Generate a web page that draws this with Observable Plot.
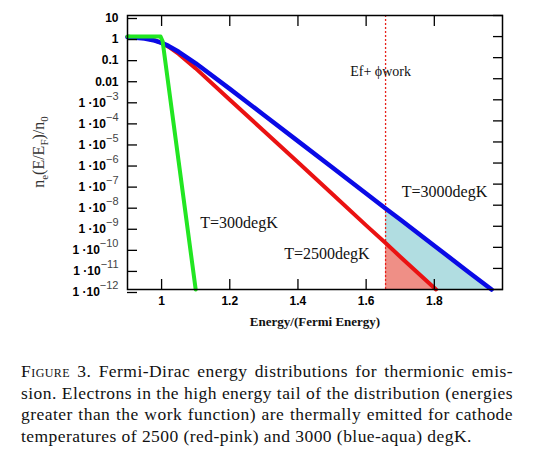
<!DOCTYPE html>
<html><head><meta charset="utf-8">
<script src="https://cdn.jsdelivr.net/npm/d3@7"></script>
<script src="https://cdn.jsdelivr.net/npm/@observablehq/plot@0.6"></script>
<style>
body{margin:0;background:#fff;}
#chart{width:540px;height:340px;}
#caption{font-family:"Liberation Serif","Times New Roman",serif;font-size:17.5px;letter-spacing:0.45px;line-height:21.7px;margin:21px 27px 0 21px;color:#111;}
#caption div{text-align:justify;text-align-last:justify;white-space:nowrap;}
#caption div.last{text-align-last:left;}
.sc{font-variant:small-caps;}
</style></head><body>
<div id="chart"></div>
<div id="caption">
<div><span class="sc">Figure 3.</span> Fermi-Dirac energy distributions for thermionic emis-</div>
<div>sion. Electrons in the high energy tail of the distribution (energies</div>
<div>greater than the work function) are thermally emitted for cathode</div>
<div class="last">temperatures of 2500 (red-pink) and 3000 (blue-aqua) degK.</div>
</div>
<script>
// T = 3000 degK (blue)
const blueE = [0.9, 0.95, 0.98, 1.0, 1.02, 1.05, 1.1, 1.2, 1.3, 1.4, 1.5, 1.6, 1.657, 1.7, 1.8, 1.9, 1.968];
const blueN = [0.95, 0.81, 0.64, 0.5, 0.36, 0.19, 0.054, 3.3e-3, 1.9e-4, 1.1e-5, 6.3e-7, 3.6e-8, 7.0e-9, 2.1e-9, 1.2e-10, 6.8e-12, 1e-12];
// T = 2500 degK (red)
const redE = [0.9, 0.95, 0.98, 1.0, 1.02, 1.05, 1.1, 1.2, 1.3, 1.4, 1.5, 1.6, 1.657, 1.7, 1.805];
const redN = [0.97, 0.85, 0.66, 0.5, 0.33, 0.15, 0.031, 1.0e-3, 3.3e-5, 1.1e-6, 3.5e-8, 1.1e-9, 1.6e-10, 3.6e-11, 1e-12];
// T = 300 degK (green)
const greenE = [0.9, 0.997, 1.003, 1.05, 1.1];
const greenN = [1, 1, 0.6, 1.2e-6, 1e-12];

const workE = 1.657; // Ef + phi_work
const nMin = 1e-12;

const xTicks = [1, 1.2, 1.4, 1.6, 1.8];
const xTickLabels = ["1", "1.2", "1.4", "1.6", "1.8"];
const yTicks = [10, 1, 0.1, 0.01, 1e-3, 1e-4, 1e-5, 1e-6, 1e-7, 1e-8, 1e-9, 1e-10, 1e-11, 1e-12];
const yTickLabels = ["10", "1", "0.1", "0.01", "1 ·10^−3", "1 ·10^−4", "1 ·10^−5", "1 ·10^−6", "1 ·10^−7", "1 ·10^−8", "1 ·10^−9", "1 ·10^−10", "1 ·10^−11", "1 ·10^−12"];

const curveLabels = ["T=3000degK", "T=300degK", "T=2500degK"];
const curveLabelE = [1.83, 1.227, 1.485];
const curveLabelN = [4.1e-8, 1.4e-9, 4.7e-11];
const workLabel = "Ef+ ϕwork";
const workLabelN = 0.0224;

const rows = (E, N) => E.map((e, i) => ({E: e, n: N[i]}));
const blue = rows(blueE, blueN), red = rows(redE, redN), green = rows(greenE, greenN);
const blueTail = blue.filter(d => d.E >= workE);
const redTail = red.filter(d => d.E >= workE);
const labelRows = curveLabels.map((t, i) => ({t, E: curveLabelE[i], n: curveLabelN[i]}));
const xLab = new Map(xTicks.map((t, i) => [t, xTickLabels[i]]));
const yLab = new Map(yTicks.map((t, i) => [t, yTickLabels[i]]));

const tickStyle = {fontWeight: "bold", fontSize: 12, fontFamily: "Liberation Sans, Arial, sans-serif", stroke: "black", strokeWidth: 1.3};

const plot = Plot.plot({
  width: 540, height: 340,
  marginLeft: 127, marginRight: 38, marginTop: 15, marginBottom: 51,
  style: {background: "white", color: "black", fontFamily: "Liberation Sans, Arial, sans-serif"},
  x: {domain: [0.9, 2.0]},
  y: {type: "log", domain: [nMin, 10]},
  marks: [
    Plot.areaY(blueTail, {x: "E", y1: nMin, y2: "n", fill: "#b1dde1"}),
    Plot.areaY(redTail, {x: "E", y1: nMin, y2: "n", fill: "#ef8f86"}),
    Plot.ruleX([workE], {stroke: "#e8201a", strokeWidth: 1.3, strokeDasharray: "2,2"}),
    Plot.line(red, {x: "E", y: "n", stroke: "#ea1212", strokeWidth: 4}),
    Plot.line(blue, {x: "E", y: "n", stroke: "#0a0ae6", strokeWidth: 4.5}),
    Plot.line(green, {x: "E", y: "n", stroke: "#22e622", strokeWidth: 4}),
    Plot.axisX({ticks: xTicks, tickFormat: d => xLab.get(d), tickSize: -10, tickPadding: 17, label: null, ...tickStyle}),
    Plot.axisX({anchor: "top", ticks: xTicks, tickFormat: () => "", tickSize: -10, label: null, ...tickStyle}),
    Plot.axisY({ticks: yTicks, tickFormat: d => yLab.get(d), tickSize: -10, tickPadding: 19, dy: 3, label: null, ...tickStyle}),
    Plot.axisY({anchor: "right", ticks: yTicks, tickFormat: () => "", tickSize: -10, label: null, ...tickStyle}),
    Plot.frame({stroke: "black", strokeWidth: 1.5}),
    Plot.text(labelRows, {x: "E", y: "n", text: "t", fontFamily: "Liberation Serif, serif", fontSize: 16, fill: "#111"}),
    Plot.text([workLabel], {x: workE, y: workLabelN, dx: -5, fontFamily: "Liberation Serif, serif", fontSize: 14, fill: "#111"}),
    Plot.text(["Energy/(Fermi Energy)"], {frameAnchor: "bottom", dy: 36, fontFamily: "Liberation Serif, serif", fontWeight: "bold", fontSize: 13, fill: "#111"})
  ]
});
document.getElementById("chart").appendChild(plot);

// superscript exponents on y tick labels
d3.select(plot).selectAll('g[aria-label="y-axis tick label"] text').each(function() {
  const s = this.textContent;
  if (!s.includes("^")) return;
  const [base, ex] = s.split("^");
  const t = d3.select(this);
  t.text(null);
  t.append("tspan").text(base);
  t.append("tspan").attr("dy", "-7").attr("font-size", 11).attr("font-weight", "normal").attr("fill", "#444").text(ex);
});

// y axis title with subscripts
const yt = d3.select(plot).append("text")
  .attr("transform", "translate(44,152) rotate(-90)")
  .attr("text-anchor", "middle")
  .attr("font-family", "Liberation Serif, serif")
  .attr("font-size", 16)
  .attr("fill", "#333");
const parts = [["n", 0], ["e", 1], ["(E/E", 0], ["F", 1], [")/n", 0], ["0", 1]];
let prev = 0;
for (const [txt, sub] of parts) {
  const shift = sub ? 4 : 0;
  yt.append("tspan").attr("dy", shift - prev).attr("font-size", sub ? 11 : 16).text(txt);
  prev = shift;
}
</script>
</body></html>
